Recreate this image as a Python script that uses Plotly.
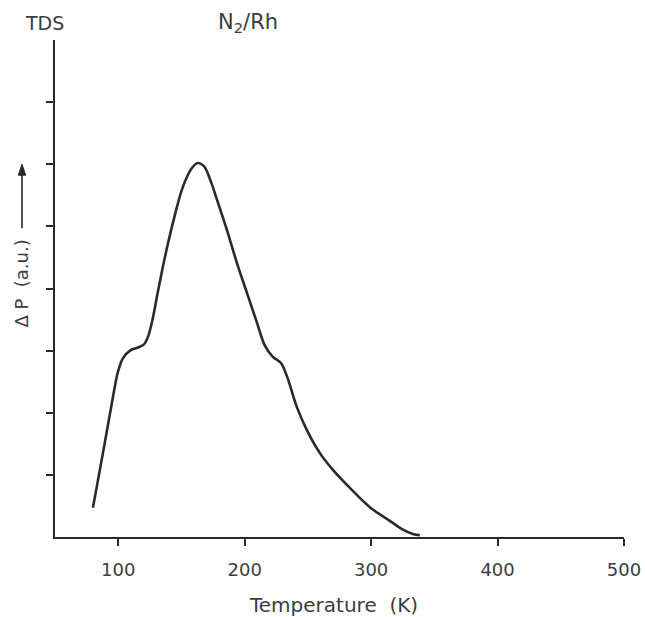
import plotly.graph_objects as go

# Thermal desorption spectrum of N2 from Rh
temperature_k = [80.0, 87.9, 95.8, 99.8, 103.8, 109.3, 115.6, 120.4, 123.5, 126.7,
                 131.4, 137.0, 143.3, 151.2, 158.3, 163.0, 167.8, 173.3, 178.1, 186.0,
                 193.9, 201.8, 209.7, 216.0, 222.3, 228.7, 233.4, 241.3, 249.2, 259.5,
                 269.8, 283.2, 299.0, 314.8, 325.1, 333.0, 338.5]
delta_p = [0.47, 1.35, 2.25, 2.66, 2.88, 3.00, 3.05, 3.10, 3.22, 3.46,
           3.95, 4.51, 5.06, 5.64, 5.94, 6.02, 5.97, 5.72, 5.43, 4.94,
           4.41, 3.93, 3.45, 3.08, 2.90, 2.80, 2.59, 2.09, 1.72, 1.35,
           1.08, 0.79, 0.48, 0.26, 0.12, 0.05, 0.03]

x_ticks = [100, 200, 300, 400, 500]
y_ticks = [1, 2, 3, 4, 5, 6, 7]

ink = "#2a2a2a"
text_col = "#3c3c3c"
font_family = "DejaVu Sans"

fig = go.Figure()
fig.add_trace(go.Scatter(
    x=temperature_k, y=delta_p, mode="lines",
    line=dict(color=ink, width=2.6, shape="spline", smoothing=1.0),
    showlegend=False, hoverinfo="skip",
))

# upward arrow beside the y-axis label
arrow_x = -0.058
fig.add_shape(type="line", xref="paper", yref="paper",
              x0=arrow_x, x1=arrow_x, y0=0.621, y1=0.735,
              line=dict(color=ink, width=1.6))
fig.add_shape(type="path", xref="paper", yref="paper",
              path=f"M {arrow_x - 0.0065} 0.728 L {arrow_x} 0.750 L {arrow_x + 0.0065} 0.728 Z",
              fillcolor=ink, line=dict(color=ink, width=1))

fig.update_layout(
    width=645, height=617,
    margin=dict(l=55, r=21, t=40, b=80),
    paper_bgcolor="white", plot_bgcolor="white",
    font=dict(family=font_family, color=text_col, size=16),
    xaxis=dict(
        range=[50, 500], tickvals=x_ticks, ticktext=[str(v) for v in x_ticks],
        showgrid=False, zeroline=False, showline=True, linecolor=ink, linewidth=2,
        ticks="outside", ticklen=7, tickwidth=1.5, tickcolor=ink,
        tickfont=dict(size=18, color=text_col), ticklabelstandoff=8,
        automargin=False,
    ),
    yaxis=dict(
        range=[0, 8], tickvals=y_ticks, showticklabels=False,
        showgrid=False, zeroline=False, showline=True, linecolor=ink, linewidth=2,
        ticks="outside", ticklen=7, tickwidth=1.5, tickcolor=ink,
        automargin=False,
    ),
    annotations=[
        dict(text="TDS", xref="paper", yref="paper", x=-0.018, y=1.034,
             showarrow=False, font=dict(size=19, color=text_col),
             xanchor="center", yanchor="middle"),
        dict(text="N<sub>2</sub>/Rh", xref="paper", yref="paper", x=0.339, y=1.034,
             showarrow=False, font=dict(size=21, color=text_col),
             xanchor="center", yanchor="middle"),
        dict(text="Δ P  (a.u.)", xref="paper", yref="paper", x=-0.058, y=0.51,
             showarrow=False, textangle=-90, font=dict(size=18, color=text_col),
             xanchor="center", yanchor="middle"),
        dict(text="Temperature  (K)", xref="paper", yref="paper", x=0.49, y=-0.137,
             showarrow=False, font=dict(size=20, color=text_col),
             xanchor="center", yanchor="middle"),
    ],
)

fig.write_html("out.html")
